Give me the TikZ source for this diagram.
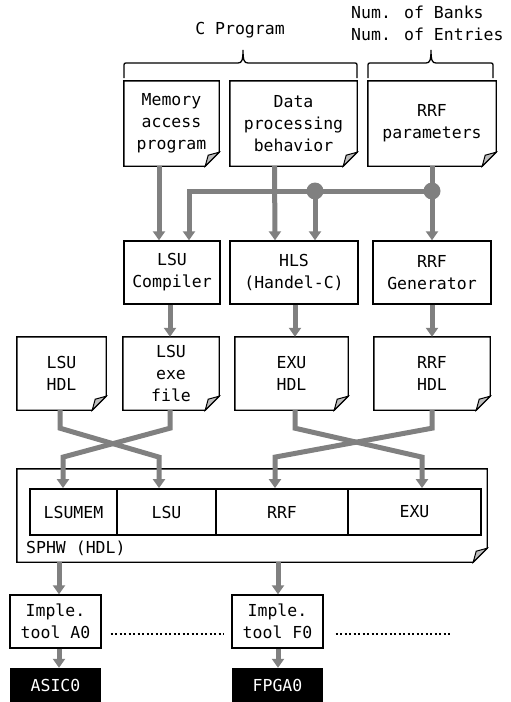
\documentclass[tikz,border=0pt]{standalone}
\usepackage{fontspec}
\setmainfont{DejaVu Sans Mono}
\usepackage{tikz}
\usetikzlibrary{arrows.meta}

\definecolor{arrgray}{RGB}{128,128,128}
\definecolor{foldgray}{RGB}{190,190,190}

% outline of a document node with a folded corner
\newcommand\docframe[1]{%
  \draw[line width=1.4pt] (#1.north west) -- (#1.north east) -- ([yshift=14pt]#1.south east)
    -- ([xshift=-14pt]#1.south east) -- (#1.south west) -- cycle;
  \draw[line width=1pt, fill=foldgray] ([xshift=-14pt]#1.south east) -- ([xshift=-11pt,yshift=11pt]#1.south east)
    -- ([yshift=14pt]#1.south east) -- cycle;}

% curly bracket over the sources: left x, right x, tip x
\newcommand\capbrace[3]{%
  \draw[line width=1.3pt] (#1,78) -- (#1,67) .. controls (#1,63) .. (#1+4,63) -- (#3-5,63)
    .. controls (#3-1,63) and (#3,60) .. (#3,50) .. controls (#3,60) and (#3+1,63) .. (#3+5,63)
    -- (#2-4,63) .. controls (#2,63) .. (#2,67) -- (#2,78);}

\begin{document}
\begin{tikzpicture}[x=1pt,y=-1pt]

	\tikzstyle{every node}=[font=\fontsize{16.5}{22}\selectfont]
	\tikzstyle{doc}=[inner sep=0pt, align=center]
	\tikzstyle{blk}=[draw, line width=1.4pt, inner sep=0pt, align=center]
	\tikzstyle{cell}=[draw, line width=1.8pt, inner sep=0pt, minimum height=46]
	\tikzstyle{outbox}=[fill=black, text=white, inner sep=0pt, minimum width=91, minimum height=34]
	\tikzstyle{flow}=[line width=5pt, arrgray, -{Triangle[width=12pt,length=9pt]}]
	\tikzstyle{dots}=[line width=2pt, dash pattern=on 2pt off 2.5pt]

	\useasboundingbox (0,0) rectangle (511,702);

	% sources
	\node (cprog) at (240,30) {C Program};
	\node[align=left, anchor=west, inner sep=0pt] (nums) at (351,23) {Num. of Banks\\Num. of Entries};
	\capbrace{124}{357}{243}
	\capbrace{368}{493}{431}

	\node[doc, minimum width=95, minimum height=85] (mem) at (171.5,123.5) {Memory\\access\\program};
	\node[doc, minimum width=127, minimum height=85] (data) at (293.5,123.5) {Data\\processing\\behavior};
	\node[doc, minimum width=128, minimum height=85] (rrfp) at (432,123.5) {RRF\\parameters};
	\docframe{mem}
	\docframe{data}
	\docframe{rrfp}

	% tools
	\node[blk, minimum width=96, minimum height=63] (lsuc) at (172,272.5) {LSU\\Compiler};
	\node[blk, minimum width=128, minimum height=63] (hls) at (294,272.5) {HLS\\(Handel-C)};
	\node[blk, minimum width=118, minimum height=63] (rrfg) at (432,272.5) {RRF\\Generator};

	\coordinate (j1) at (315,191);
	\coordinate (j2) at (432,191);
	\draw[flow] ([xshift=-12.5pt]mem.south) -- ([xshift=-13pt]lsuc.north);
	\draw[flow] ([xshift=-19pt]data.south) -- ([xshift=-19pt]hls.north);
	\draw[flow] (rrfp.south) -- (rrfg.north);
	\draw[flow] (j2) -| ([xshift=17pt]lsuc.north);
	\draw[flow] (j1) -- ([xshift=21pt]hls.north);
	\fill[arrgray] (j1) circle (8.5);
	\fill[arrgray] (j2) circle (8.5);

	% generated files
	\node[doc, minimum width=89, minimum height=73] (lsuhdl) at (61.5,373.5) {LSU\\HDL};
	\node[doc, minimum width=96, minimum height=73] (lsuexe) at (171,373.5) {LSU\\exe\\file};
	\node[doc, minimum width=113, minimum height=73] (exuhdl) at (291.5,373.5) {EXU\\HDL};
	\node[doc, minimum width=116, minimum height=73] (rrfhdl) at (432,373.5) {RRF\\HDL};
	\docframe{lsuhdl}
	\docframe{lsuexe}
	\docframe{exuhdl}
	\docframe{rrfhdl}

	\draw[flow] ([xshift=-2pt]lsuc.south) -- ([xshift=-1pt]lsuexe.north);
	\draw[flow] ([xshift=1pt]hls.south) -- ([xshift=3.5pt]exuhdl.north);
	\draw[flow] (rrfg.south) -- (rrfhdl.north);

	% SPHW
	\node[doc, minimum width=470, minimum height=93] (sphw) at (252,515.5) {};
	\docframe{sphw}
	\node[anchor=west, inner sep=0pt] (sphwlbl) at (26,548) {SPHW (HDL)};
	\node[cell, minimum width=87] (lsumem) at (73.5,512) {LSUMEM};
	\node[cell, minimum width=99] (lsu) at (166.5,512) {LSU};
	\node[cell, minimum width=132] (rrf) at (282,512) {RRF};
	\node[cell, minimum width=133] (exu) at (414.5,512) {EXU};

	\draw[flow] ([xshift=-1.5pt]lsuhdl.south) -- ++(0,18) -- ([xshift=-7.5pt,yshift=31pt]lsu.north) -- ([xshift=-7.5pt]lsu.north);
	\draw[flow] ([xshift=-1pt]lsuexe.south) -- ++(0,18) -- ([xshift=-10.5pt,yshift=31pt]lsumem.north) -- ([xshift=-10.5pt]lsumem.north);
	\draw[flow] ([xshift=3.5pt]exuhdl.south) -- ++(0,18) -- ([xshift=7.5pt,yshift=31pt]exu.north) -- ([xshift=7.5pt]exu.north);
	\draw[flow] (rrfhdl.south) -- ++(0,18) -- ([xshift=-7pt,yshift=31pt]rrf.north) -- ([xshift=-7pt]rrf.north);

	% implementation
	\node[blk, minimum width=91, minimum height=53] (toola) at (55.5,621.5) {Imple.\\tool A0};
	\node[blk, minimum width=91, minimum height=53] (toolf) at (277.5,621.5) {Imple.\\tool F0};
	\node[outbox] (asic) at (55.5,685) {ASIC0};
	\node[outbox] (fpga) at (277.5,685) {FPGA0};

	\coordinate (colA) at (59,0);
	\coordinate (colF) at (278,0);
	\coordinate (more) at (450,634);
	\draw[flow] (sphw.south -| colA) -- (toola.north -| colA);
	\draw[flow] (sphw.south -| colF) -- (toolf.north -| colF);
	\draw[flow] (toola.south -| colA) -- (asic.north -| colA);
	\draw[flow] (toolf.south -| colF) -- (fpga.north -| colF);

	\draw[dots] ([xshift=9pt,yshift=-12.5pt]toola.east) -- ([xshift=-7pt,yshift=-12.5pt]toolf.west);
	\draw[dots] ([xshift=12pt,yshift=-12.5pt]toolf.east) -- (more);

\end{tikzpicture}
\end{document}
